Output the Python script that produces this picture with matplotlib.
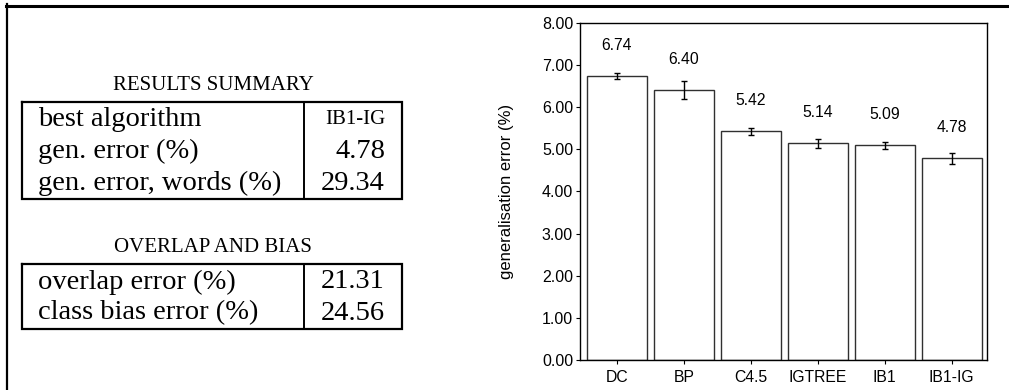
import numpy as np
import matplotlib.pyplot as plt
from matplotlib.lines import Line2D

# Generalisation error per algorithm, with standard error
algorithms = ["DC", "BP", "C4.5", "IGTREE", "IB1", "IB1-IG"]
gen_error = [6.74, 6.40, 5.42, 5.14, 5.09, 4.78]
gen_error_se = [0.075, 0.22, 0.085, 0.11, 0.085, 0.12]
y_ticks = [0, 1, 2, 3, 4, 5, 6, 7, 8]

# Summary tables shown beside the bar chart
summary_labels = ["best algorithm", "gen. error (%)", "gen. error, words (%)"]
summary_values = ["IB1-IG", "4.78", "29.34"]
overlap_labels = ["overlap error (%)", "class bias error (%)"]
overlap_values = ["21.31", "24.56"]

plt.rcParams['font.family'] = ['Liberation Sans', 'DejaVu Sans']
serif = ['Liberation Serif', 'DejaVu Serif']

fig = plt.figure(figsize=(10.09, 3.9), dpi=100)

# Page-like frame: rule across the top, rule down the left
fig.add_artist(Line2D([6 / 1009, 1], [1 - 5.5 / 390] * 2, color='black', lw=2.2))
fig.add_artist(Line2D([7 / 1009] * 2, [0, 1 - 4 / 390], color='black', lw=1.6))

# Left panel drawn in pixel units
lp = fig.add_axes([0, 0, 1, 1])
lp.set_xlim(0, 1009)
lp.set_ylim(390, 0)
lp.axis('off')


def draw_table(title, title_y, top, bottom, labels, values, row_ys, value_sizes):
    left, right, split = 22, 402, 304
    lp.text((left + right) / 2 + 1, title_y, title, family=serif, fontsize=15,
            ha='center', va='center')
    lp.plot([left, right, right, left, left], [top, top, bottom, bottom, top],
            color='black', lw=1.6, solid_joinstyle='miter')
    lp.plot([split, split], [top, bottom], color='black', lw=1.4)
    for lab, val, y, vs in zip(labels, values, row_ys, value_sizes):
        lp.text(38, y, lab, family=serif, fontsize=20.5, ha='left', va='center')
        lp.text(385, y, val, family=serif, fontsize=vs, ha='right', va='center')


draw_table("RESULTS SUMMARY", 85, 102, 199, summary_labels, summary_values,
           [119, 151, 183], [15, 20.5, 20.5])
draw_table("OVERLAP AND BIAS", 247, 264, 329, overlap_labels, overlap_values,
           [282, 313], [20.5, 20.5])

# Bar chart
ax = fig.add_axes([580 / 1009, 1 - 360 / 390, 407.5 / 1009, (360 - 22.7) / 390])
x = np.arange(len(algorithms))
ax.bar(x, gen_error, width=0.9, color='white', edgecolor='#303030', linewidth=1.0,
       zorder=2)
ax.errorbar(x, gen_error, yerr=gen_error_se, fmt='none', ecolor='black',
            elinewidth=1.0, capsize=2.2, capthick=1.0, zorder=3)
for xi, v in zip(x, gen_error):
    ax.annotate(f"{v:.2f}", xy=(xi, v), xytext=(0, 30.5), textcoords='offset pixels',
                ha='center', va='center', fontsize=11.3)

ax.set_xlim(-0.55, 5.535)
ax.set_ylim(0, 8)
ax.set_xticks(x)
ax.set_xticklabels(algorithms, fontsize=11.3)
ax.set_yticks(y_ticks)
ax.set_yticklabels([f"{t:.2f}" for t in y_ticks], fontsize=11.5)
ax.tick_params(direction='out', length=3, width=0.8, pad=2)
ax.tick_params(axis='x', pad=4)
ax.set_ylabel("generalisation error (%)", fontsize=12, labelpad=20)
for s in ax.spines.values():
    s.set_linewidth(1.0)
    s.set_color('black')

fig.savefig("out.png", dpi=100)
